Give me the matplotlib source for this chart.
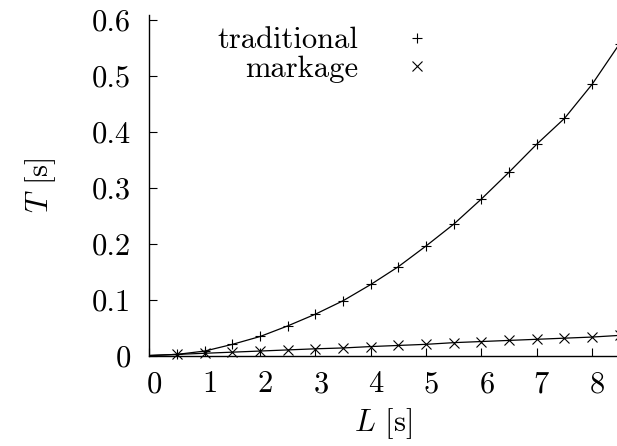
import matplotlib
matplotlib.use('Agg')
import matplotlib.pyplot as plt
import matplotlib.transforms as mtrans

plt.rcParams['font.family'] = ['cmr10', 'DejaVu Serif']
plt.rcParams['mathtext.fontset'] = 'cm'
plt.rcParams['axes.formatter.use_mathtext'] = True

# data
L = [0.5, 1.0, 1.5, 2.0, 2.5, 3.0, 3.5, 4.0, 4.5, 5.0, 5.5, 6.0, 6.5, 7.0, 7.5, 8.0, 8.5]
t_traditional = [0.002, 0.008, 0.020, 0.034, 0.053, 0.074, 0.098, 0.127, 0.159,
                 0.196, 0.235, 0.280, 0.328, 0.378, 0.424, 0.485, 0.558]
t_markage = [0.002, 0.004, 0.006, 0.008, 0.010, 0.012, 0.0135, 0.016, 0.018,
             0.020, 0.023, 0.025, 0.027, 0.029, 0.031, 0.033, 0.036]

x_ticks = [0, 1, 2, 3, 4, 5, 6, 7, 8]
y_ticks = [0, 0.1, 0.2, 0.3, 0.4, 0.5, 0.6]
y_tick_labels = ['0', '0.1', '0.2', '0.3', '0.4', '0.5', '0.6']

FS = 22

fig = plt.figure(figsize=(6.17, 4.46), dpi=100)
ax = fig.add_axes([0.2423, 0.2029, 0.7577, 0.7635])

# fit lines (start from origin), then the measured points
ax.plot([0] + L, [0] + t_traditional, color='black', lw=0.9)
ax.plot([0] + L, [0] + t_markage, color='black', lw=0.9)
ax.plot(L, t_traditional, ls='none', marker='+', ms=7, mew=0.8,
        color='black', label='traditional', clip_on=False)
ax.plot(L, t_markage, ls='none', marker='x', ms=6.5, mew=0.8,
        color='black', label='markage', clip_on=False)

ax.set_xlim(0, 8.45)
ax.set_ylim(0, 0.609)
ax.set_xticks(x_ticks)
ax.set_yticks(y_ticks)
ax.set_yticklabels(y_tick_labels)

for side in ['top', 'right']:
    ax.spines[side].set_visible(False)
for side in ['left', 'bottom']:
    ax.spines[side].set_linewidth(1.0)

ax.tick_params(direction='in', length=6, width=0.8, labelsize=FS)
ax.tick_params(axis='y', pad=13.5)
ax.tick_params(axis='x', pad=11)

# gnuplot puts the x tick labels a little to the right of the ticks
shift = mtrans.ScaledTranslation(0.05, 0, fig.dpi_scale_trans)
for lab in ax.get_xticklabels():
    lab.set_transform(lab.get_transform() + shift)

ax.set_xlabel('$L$ [s]', fontsize=FS, labelpad=6)
ax.set_ylabel('$T$ [s]', fontsize=FS, labelpad=24)

leg = ax.legend(loc='upper right', bbox_to_anchor=(0.726, 0.94),
                bbox_transform=fig.transFigure, frameon=False,
                markerfirst=False, fontsize=FS, numpoints=1,
                handlelength=2.0, handletextpad=0.92, labelspacing=0.05,
                borderpad=0, borderaxespad=0)

fig.savefig('out.png', dpi=100)
